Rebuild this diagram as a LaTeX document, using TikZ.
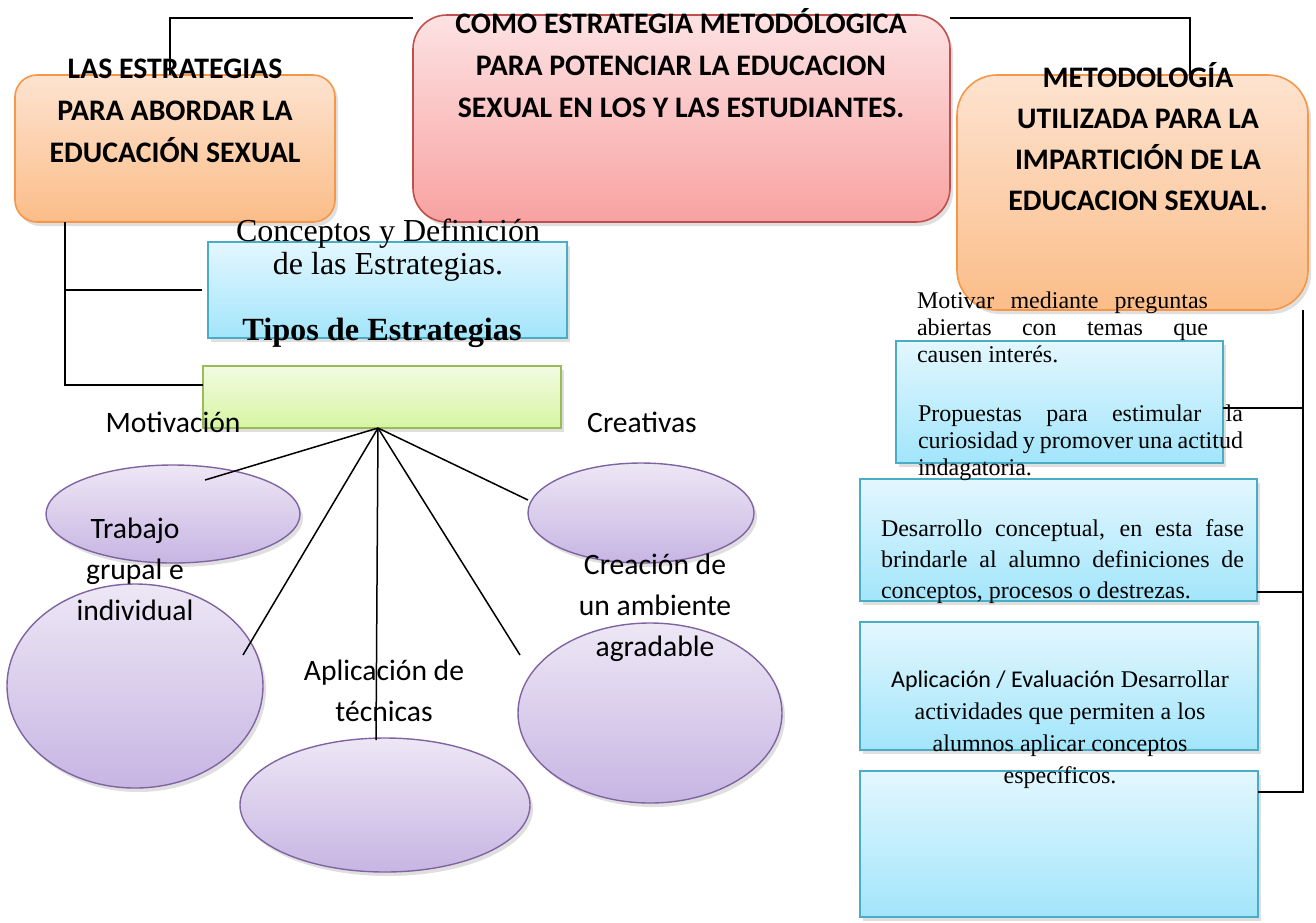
\documentclass[tikz,border=0pt]{standalone}
\usepackage{fontspec}
\setmainfont{Liberation Serif}
\newfontfamily\calibri{Carlito}
\usetikzlibrary{positioning, calc, shapes, shadows}
\definecolor{peachtop}{HTML}{FDE3D0}
\definecolor{peachbot}{HTML}{FBBD88}
\definecolor{peachline}{HTML}{F79646}
\definecolor{rosytop}{HTML}{FDE2E3}
\definecolor{rosybot}{HTML}{F8A2A1}
\definecolor{rosyline}{HTML}{C0504D}
\definecolor{skytop}{HTML}{E3F7FE}
\definecolor{skybot}{HTML}{A2E5FB}
\definecolor{skyline}{HTML}{4BACC6}
\definecolor{limetop}{HTML}{F2FBE2}
\definecolor{limebot}{HTML}{D6F5A2}
\definecolor{limeline}{HTML}{9BBB59}
\definecolor{lilactop}{HTML}{EDE7F5}
\definecolor{lilacbot}{HTML}{C7B5E3}
\definecolor{lilacline}{HTML}{8064A2}
\tikzset{box/.style={draw, line width=1.6pt, inner sep=0pt, outer sep=0pt, drop shadow={opacity=0.25, shadow xshift=3pt, shadow yshift=-4pt}}}
\tikzset{peach/.style={box, draw=peachline, top color=peachtop, bottom color=peachbot}}
\tikzset{rosy/.style={box, draw=rosyline, top color=rosytop, bottom color=rosybot}}
\tikzset{sky/.style={box, draw=skyline, top color=skytop, bottom color=skybot}}
\tikzset{lime/.style={box, draw=limeline, top color=limetop, bottom color=limebot}}
\tikzset{bubble/.style={box, ellipse, line width=1.4pt, draw=lilacline, top color=lilactop, bottom color=lilacbot}}
\tikzset{link/.style={draw, line width=1.8pt}}
\tikzset{head/.style={align=center, inner sep=0pt, font=\calibri\bfseries\fontsize{29.8}{42}\selectfont}}
\tikzset{sans/.style={align=center, inner sep=0pt, font=\calibri\fontsize{29.6}{41}\selectfont}}
\tikzset{para/.style={align=left, inner sep=0pt, font=\fontsize{24}{27}\selectfont}}
\newcommand{\jline}[2]{\makebox[#1pt][s]{#2}}

\begin{document}
\begin{tikzpicture}[x=1pt, y=-1pt]
  \useasboundingbox (0,0) rectangle (1316,922);

  \node[peach, rounded corners=22pt, minimum width=320, minimum height=147] (estrat) at (175,148.5) {};
  \node[rosy, rounded corners=34pt, minimum width=537, minimum height=207] (potenciar) at (681.5,118.5) {};
  \node[peach, rounded corners=40pt, minimum width=351, minimum height=235] (metod) at (1132.5,192.5) {};
  \node[sky, minimum width=359, minimum height=96] (concept) at (387.5,290) {};
  \node[lime, minimum width=358, minimum height=62] (tipos) at (382,397) {};

  \node[bubble, minimum width=254, minimum height=98] (grupo) at (173,514) {};
  \node[bubble, minimum width=256, minimum height=204] (indiv) at (135,686) {};
  \node[bubble, minimum width=290, minimum height=134] (tecnicas) at (385,805) {};
  \node[bubble, minimum width=226, minimum height=100] (creat) at (641,513) {};
  \node[bubble, minimum width=264, minimum height=180] (ambiente) at (650,713) {};

  \node[sky, minimum width=327, minimum height=122] (fase1) at (1059.5,402) {};
  \node[sky, minimum width=397, minimum height=122] (fase2) at (1058.5,540) {};
  \node[sky, minimum width=398, minimum height=128] (fase3) at (1059,686) {};
  \node[sky, minimum width=398, minimum height=146] (fase4) at (1059,844) {};

  % top connectors
  \draw[link] ([xshift=-5pt]estrat.north) |- ($(potenciar.north west)+(0,3)$);
  \draw[link] ($(potenciar.north east)+(0,3)$) -| ([xshift=57.5pt]metod.north);

  % left bracket
  \coordinate (spine) at ([xshift=-110pt]estrat.south);
  \draw[link] (spine) |- ($(tipos.west)+(0,-12)$);
  \draw[link] (spine |- concept.west) -- ([xshift=-6pt]concept.west);

  % fan
  \coordinate (hub) at ([xshift=-4pt]tipos.south);
  \coordinate (c1) at (205,480);
  \coordinate (c2) at (243,655);
  \coordinate (c3) at (376,740);
  \coordinate (c4) at (520,655);
  \coordinate (c5) at (528,500);
  \foreach \c in {1,...,5}
    \draw[line width=1.5pt] (hub) -- (c\c);

  % right bracket
  \coordinate (rail) at ([xshift=-5pt]metod.south east);
  \draw[link] (rail) |- ($(fase4.east)+(0,-52)$);
  \draw[link] ($(fase1.east)+(0,6)$) -- ($(fase1.east -| rail)+(0,6)$);
  \draw[link] ($(fase2.east)+(0,52)$) -- ($(fase2.east -| rail)+(0,52)$);

  \node[head] (tlas) at (175,111) {LAS ESTRATEGIAS\\PARA ABORDAR LA\\EDUCACIÓN SEXUAL};
  \node[head] (tcomo) at (681,63) {COMO ESTRATEGIA METODÓLOGICA\\PARA POTENCIAR LA EDUCACION\\SEXUAL EN LOS Y LAS ESTUDIANTES.};
  \node[head, font=\calibri\bfseries\fontsize{29.8}{41}\selectfont] (tmet) at (1138,137) {METODOLOGÍA\\UTILIZADA PARA LA\\IMPARTICIÓN DE LA\\EDUCACION SEXUAL.};

  \node[align=center, inner sep=0pt, font=\fontsize{32}{33}\selectfont] (tconc) at (388,250) {Conceptos y Definición\\de las Estrategias.};
  \node[inner sep=0pt, font=\bfseries\fontsize{32.3}{33}\selectfont] (ttipos) at (382,333) {Tipos de Estrategias};

  \node[sans] (tmotiv) at (173,422) {Motivación};
  \node[sans] (tcreat) at (642,422) {Creativas};
  \node[sans] (ttrab) at (135,569) {Trabajo\\grupal e\\individual};
  \node[sans] (taplic) at (384,691) {Aplicación de\\técnicas};
  \node[sans] (tcrea) at (655,608) {Creación de\\un ambiente\\agradable};

  \node[para] (tmotivar) at (1062.5,327) {\jline{291}{Motivar mediante preguntas}\\\jline{291}{abiertas con temas que}\\causen interés.};
  \node[para] (tpropuesta) at (1080.5,443) {\jline{325}{Propuestas para estimular la}\\\jline{325}{curiosidad y promover una actitud}\\indagatoria.};
  \node[para, font=\fontsize{24}{31}\selectfont] (tdesarrollo) at (1062.5,562) {\jline{363}{Desarrollo conceptual, en esta fase}\\\jline{363}{brindarle al alumno definiciones de}\\conceptos, procesos o destrezas.};
  \node[align=center, inner sep=0pt, font=\fontsize{24}{32}\selectfont] (taplicacion) at (1060,730) {{\calibri Aplicación / Evaluación} Desarrollar\\actividades que permiten a los\\alumnos aplicar conceptos\\específicos.};
\end{tikzpicture}
\end{document}
